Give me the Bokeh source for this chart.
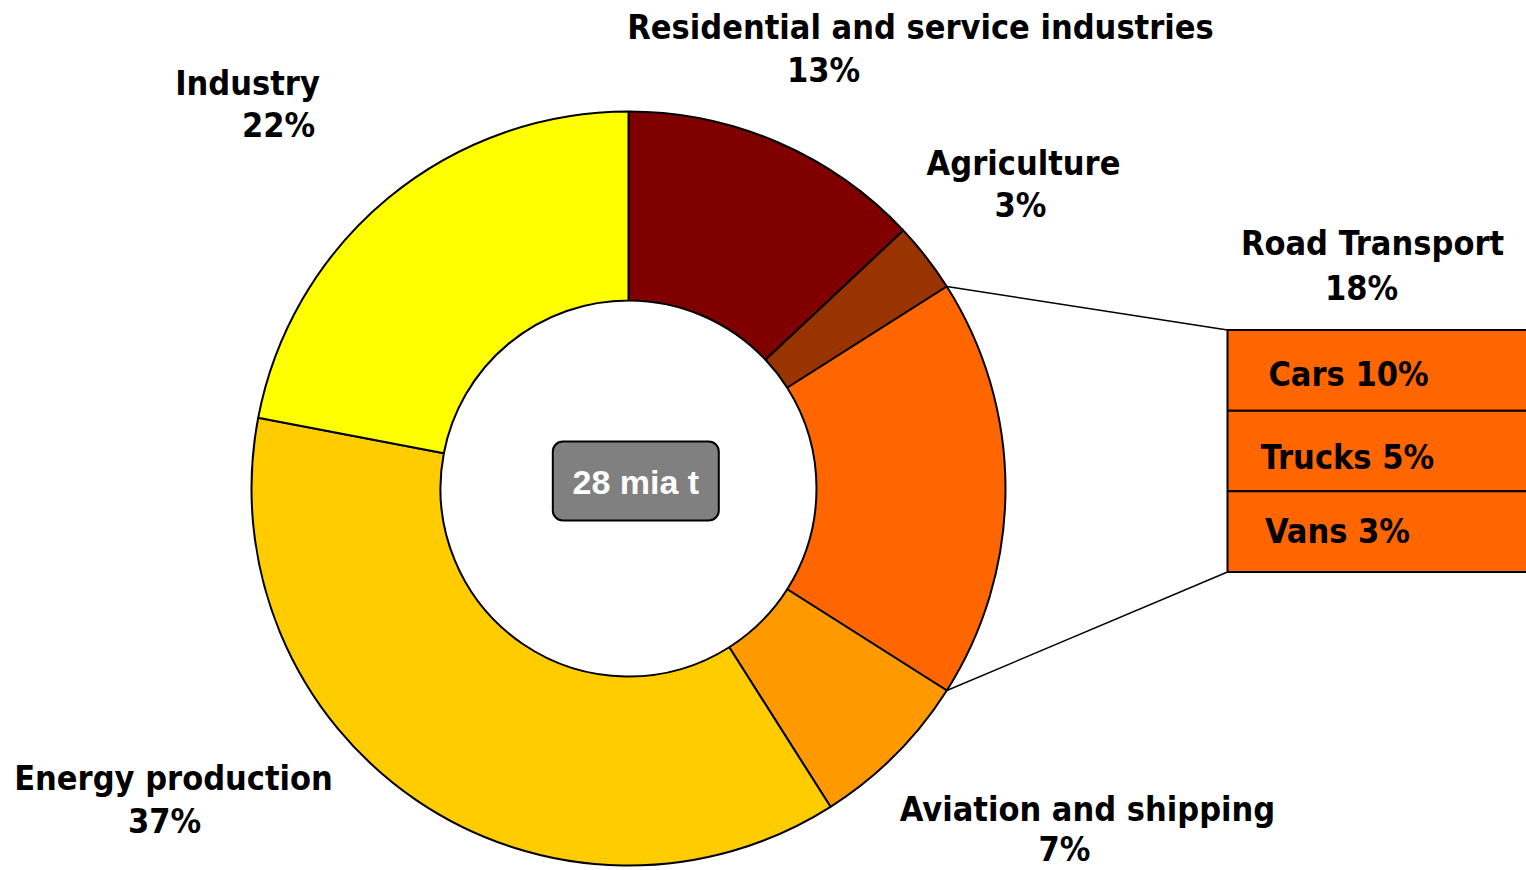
from bokeh.plotting import figure
from bokeh.models import Range1d
from bokeh.embed import file_html
from bokeh.resources import INLINE
from bokeh.core.properties import value
import math

W, H = 1526, 870

# ---- data ----
sectors = ["Residential and service industries", "Agriculture", "Road Transport",
           "Aviation and shipping", "Energy production", "Industry"]
shares = [13, 3, 18, 7, 37, 22]
colors = ["#800000", "#993300", "#FF6600", "#FF9900", "#FFCC00", "#FFFF00"]
sub_names = ["Cars", "Trucks", "Vans"]
sub_shares = [10, 5, 3]
total_label = "28 mia t"

# ---- layout ----
CX, CY = 628, H - 488
R_OUT, R_IN = 377, 188
FONT = "DejaVu Sans Condensed"
FS = "34px"
BASE_FIX = 13  # correction for the renderer's alphabetic baseline
# label anchors (pixel x centre, pixel baseline)
label_pos = {
    "Residential and service industries": [(920, 39.5), (823, 82)],
    "Agriculture": [(1023, 175), (1020, 217.5)],
    "Road Transport": [(1372, 255), (1361, 300)],
    "Aviation and shipping": [(1087, 821), (1064, 861)],
    "Energy production": [(173, 790), (164, 833)],
    "Industry": [(247, 95), (278, 137.5)],
}
sub_x = [1348, 1347, 1337]
sub_base = [386.5, 469, 543]
BOX_L, BOX_R, BOX_T, BOX_B = 1227, 1540, H - 329.5, H - 571.5

p = figure(width=W, height=H, output_backend="svg", toolbar_location=None,
           x_range=Range1d(0, W), y_range=Range1d(0, H), min_border=0)
p.axis.visible = False
p.grid.visible = False
p.outline_line_color = None

starts, ends = [], []
cum = 0
for s in shares:
    starts.append(math.radians(90 - cum * 3.6))
    cum += s
    ends.append(math.radians(90 - cum * 3.6))

p.annular_wedge(x=CX, y=CY, inner_radius=R_IN, outer_radius=R_OUT,
                inner_radius_units="screen", outer_radius_units="screen",
                start_angle=starts, end_angle=ends, direction="clock",
                fill_color=colors, line_color="black", line_width=2)

# connector lines from road transport slice to breakdown box
ri = sectors.index("Road Transport")
a1, a2 = starts[ri], ends[ri]
p.line(x=[CX + R_OUT * math.cos(a1), BOX_L], y=[CY + R_OUT * math.sin(a1), BOX_T],
       line_color="black", line_width=1.5)
p.line(x=[CX + R_OUT * math.cos(a2), BOX_L], y=[CY + R_OUT * math.sin(a2), BOX_B],
       line_color="black", line_width=1.5)

# breakdown box
n = len(sub_shares)
h = (BOX_T - BOX_B) / n
tops = [BOX_T - i * h for i in range(n)]
bots = [BOX_T - (i + 1) * h for i in range(n)]
p.quad(left=BOX_L, right=BOX_R, top=tops, bottom=bots,
       fill_color=colors[ri], line_color="black", line_width=2)
p.text(x=sub_x, y=[H - b + BASE_FIX for b in sub_base],
       text=[f"{nm} {v}%" for nm, v in zip(sub_names, sub_shares)],
       text_align="center", text_baseline="alphabetic",
       text_font=value(FONT), text_font_style="bold", text_font_size=FS,
       text_color="black")

# sector labels
xs, ys, ts = [], [], []
for nm, v in zip(sectors, shares):
    (x1, b1), (x2, b2) = label_pos[nm]
    xs += [x1, x2]
    ys += [H - b1 + BASE_FIX, H - b2 + BASE_FIX]
    ts += [nm, f"{v}%"]
p.text(x=xs, y=ys, text=ts, text_align="center", text_baseline="alphabetic",
       text_font=value(FONT), text_font_style="bold", text_font_size=FS,
       text_color="black")

# centre total badge
p.rect(x=635.3, y=H - 480.5, width=166, height=79, width_units="screen",
       height_units="screen", fill_color="#808080", line_color="black",
       line_width=2, border_radius=10)
p.text(x=[635.3], y=[H - 481], text=[total_label], text_align="center",
       text_baseline="middle", text_font=value("Liberation Sans"),
       text_font_style="bold", text_font_size="34px", text_color="white")

open("out.html", "w").write(file_html(p, INLINE))
